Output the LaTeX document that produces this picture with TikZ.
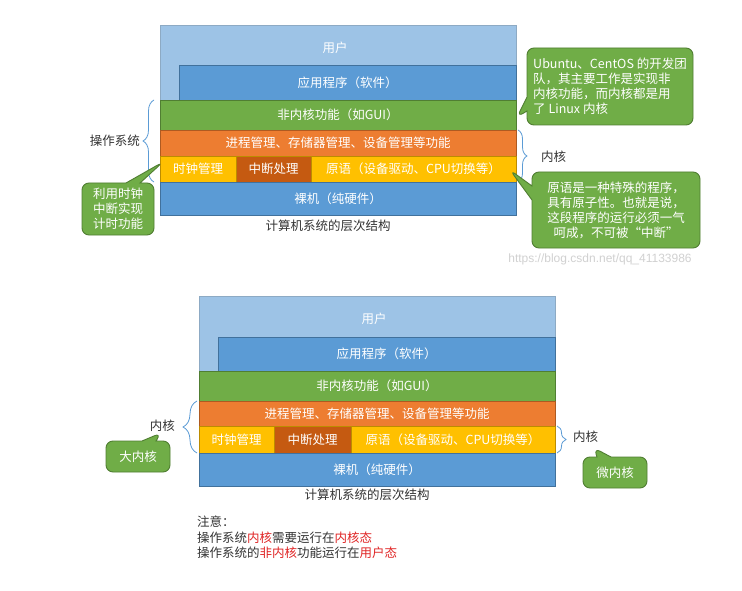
\documentclass[tikz,border=0pt]{standalone}
\usepackage{fontspec}
\setmainfont{Noto Sans CJK SC}
\newfontfamily\wmfont{Liberation Sans}
\usetikzlibrary{shapes.callouts,decorations.pathreplacing}
\definecolor{userblue}{HTML}{9DC3E6}
\definecolor{appblue}{HTML}{5B9BD5}
\definecolor{bluedark}{HTML}{41719C}
\definecolor{kgreen}{HTML}{70AD47}
\definecolor{greendark}{HTML}{507E32}
\definecolor{korange}{HTML}{ED7D31}
\definecolor{orangedark}{HTML}{AE5A21}
\definecolor{kyellow}{HTML}{FFC000}
\definecolor{yellowdark}{HTML}{BC8C00}
\definecolor{kbrown}{HTML}{C55A11}
\definecolor{notered}{HTML}{E02424}
\definecolor{labelgray}{HTML}{333333}
\tikzset{
  layer/.style={rectangle, anchor=north west, inner sep=0pt, outer sep=0pt,
    line width=0.6pt, text=white, font=\fontsize{12.5}{15}\selectfont},
  lbl/.style={font=\fontsize{12.5}{15}\selectfont, text=labelgray, inner sep=0pt},
  bubble/.style={rectangle callout, fill=kgreen, draw=greendark, line width=0.9pt,
    rounded corners=7pt, text=white, font=\fontsize{12.5}{15}\selectfont,
    inner sep=0pt, callout pointer width=14pt},
  kbrace/.style={draw=appblue, line width=0.8pt, decorate,
    decoration={brace, amplitude=#1}},
}
\begin{document}
\begin{tikzpicture}[x=1pt,y=-1pt]
\useasboundingbox[fill=white] (0,0) rectangle (742,591);

% ---------- top diagram ----------
\node[layer, fill=userblue, draw=bluedark!60, minimum width=356pt, minimum height=190pt] (userA) at (160,25) {};
\node[lbl, text=white] (userAt) at (335,48) {用户};
\node[layer, fill=appblue, draw=bluedark, minimum width=337pt, minimum height=35pt] (appA) at (179,65) {应用程序（软件）};
\node[layer, fill=kgreen, draw=greendark, minimum width=356pt, minimum height=30pt] (greenA) at (160,100) {非内核功能（如GUI）};
\node[layer, fill=korange, draw=orangedark, minimum width=356pt, minimum height=26pt] (orangeA) at (160,130) {进程管理、存储器管理、设备管理等功能};
\node[layer, fill=kyellow, draw=yellowdark, minimum width=76pt, minimum height=26pt] (clockA) at (160,156) {时钟管理};
\node[layer, fill=kbrown, draw=yellowdark, minimum width=75pt, minimum height=26pt] (intA) at (236,156) {中断处理};
\node[layer, fill=kyellow, draw=yellowdark, minimum width=205pt, minimum height=26pt] (primA) at (311,156) {原语（设备驱动、CPU切换等）};
\node[layer, fill=appblue, draw=bluedark, minimum width=356pt, minimum height=33pt] (bareA) at (160,182) {裸机（纯硬件）};
\node[lbl] (capA) at (328,226) {计算机系统的层次结构};

\draw[kbrace=11pt] ([xshift=-6pt]bareA.north west) -- ([xshift=-6pt]greenA.north west);
\node[lbl, anchor=east] (osA) at (140,141) {操作系统};
\draw[kbrace=9pt] ([xshift=2pt]orangeA.north east) -- ([xshift=2pt]primA.south east);
\node[lbl, anchor=west] (kerA) at (541,157) {内核};

\coordinate (tipU) at (517,117);
\coordinate (tipP) at (510,170);
\coordinate (tipT) at (163,162);
\node[bubble, callout absolute pointer={(tipU)}, minimum width=166pt, minimum height=77pt, align=left] (bubU) at (610,86.5)
  {Ubuntu、CentOS 的开发团\\队，其主要工作是实现非\\内核功能，而内核都是用\\了 Linux 内核};
\node[bubble, callout absolute pointer={(tipP)}, minimum width=168pt, minimum height=76pt, align=center] (bubP) at (616,210)
  {原语是一种特殊的程序，\\具有原子性。也就是说，\\这段程序的运行必须一气\\呵成，不可被“中断”};
\node[bubble, callout absolute pointer={(tipT)}, minimum width=72pt, minimum height=52pt, align=center] (bubT) at (118,209)
  {利用时钟\\中断实现\\计时功能};

\node[font=\wmfont\fontsize{12}{14}\selectfont, text=black!18, inner sep=0pt] (wm) at (600,259) {https://blog.csdn.net/qq\_41133986};

% ---------- bottom diagram ----------
\node[layer, fill=userblue, draw=bluedark!60, minimum width=356pt, minimum height=190pt] (userB) at (199,296) {};
\node[lbl, text=white] (userBt) at (374,319) {用户};
\node[layer, fill=appblue, draw=bluedark, minimum width=337pt, minimum height=34pt] (appB) at (218,337) {应用程序（软件）};
\node[layer, fill=kgreen, draw=greendark, minimum width=356pt, minimum height=30pt] (greenB) at (199,371) {非内核功能（如GUI）};
\node[layer, fill=korange, draw=orangedark, minimum width=356pt, minimum height=25pt] (orangeB) at (199,401) {进程管理、存储器管理、设备管理等功能};
\node[layer, fill=kyellow, draw=yellowdark, minimum width=75pt, minimum height=27pt] (clockB) at (199,426) {时钟管理};
\node[layer, fill=kbrown, draw=yellowdark, minimum width=77pt, minimum height=27pt] (intB) at (274,426) {中断处理};
\node[layer, fill=kyellow, draw=yellowdark, minimum width=204pt, minimum height=27pt] (primB) at (351,426) {原语（设备驱动、CPU切换等）};
\node[layer, fill=appblue, draw=bluedark, minimum width=356pt, minimum height=33pt] (bareB) at (199,453) {裸机（纯硬件）};
\node[lbl] (capB) at (367,495) {计算机系统的层次结构};

\draw[kbrace=14pt] ([xshift=-2pt]clockB.south west) -- ([xshift=-2pt]orangeB.north west);
\node[lbl, anchor=east] (kerBL) at (175,426) {内核};
\draw[kbrace=9pt] ([xshift=2pt]primB.north east) -- ([xshift=2pt]primB.south east);
\node[lbl, anchor=west] (kerBR) at (573,437) {内核};

\coordinate (tipBig) at (161,433);
\coordinate (tipMicro) at (594,448);
\node[bubble, callout absolute pointer={(tipBig)}, minimum width=64pt, minimum height=31pt] (bubBig) at (138,456.5) {大内核};
\node[bubble, callout absolute pointer={(tipMicro)}, minimum width=64pt, minimum height=31pt] (bubMicro) at (615,472.5) {微内核};

\node[lbl, anchor=north west, align=left, font=\fontsize{12.5}{15.5}\selectfont] (note) at (197,516)
  {注意：\\
   操作系统{\color{notered}内核}需要运行在{\color{notered}内核态}\\
   操作系统的{\color{notered}非内核}功能运行在{\color{notered}用户态}};
\end{tikzpicture}
\end{document}
